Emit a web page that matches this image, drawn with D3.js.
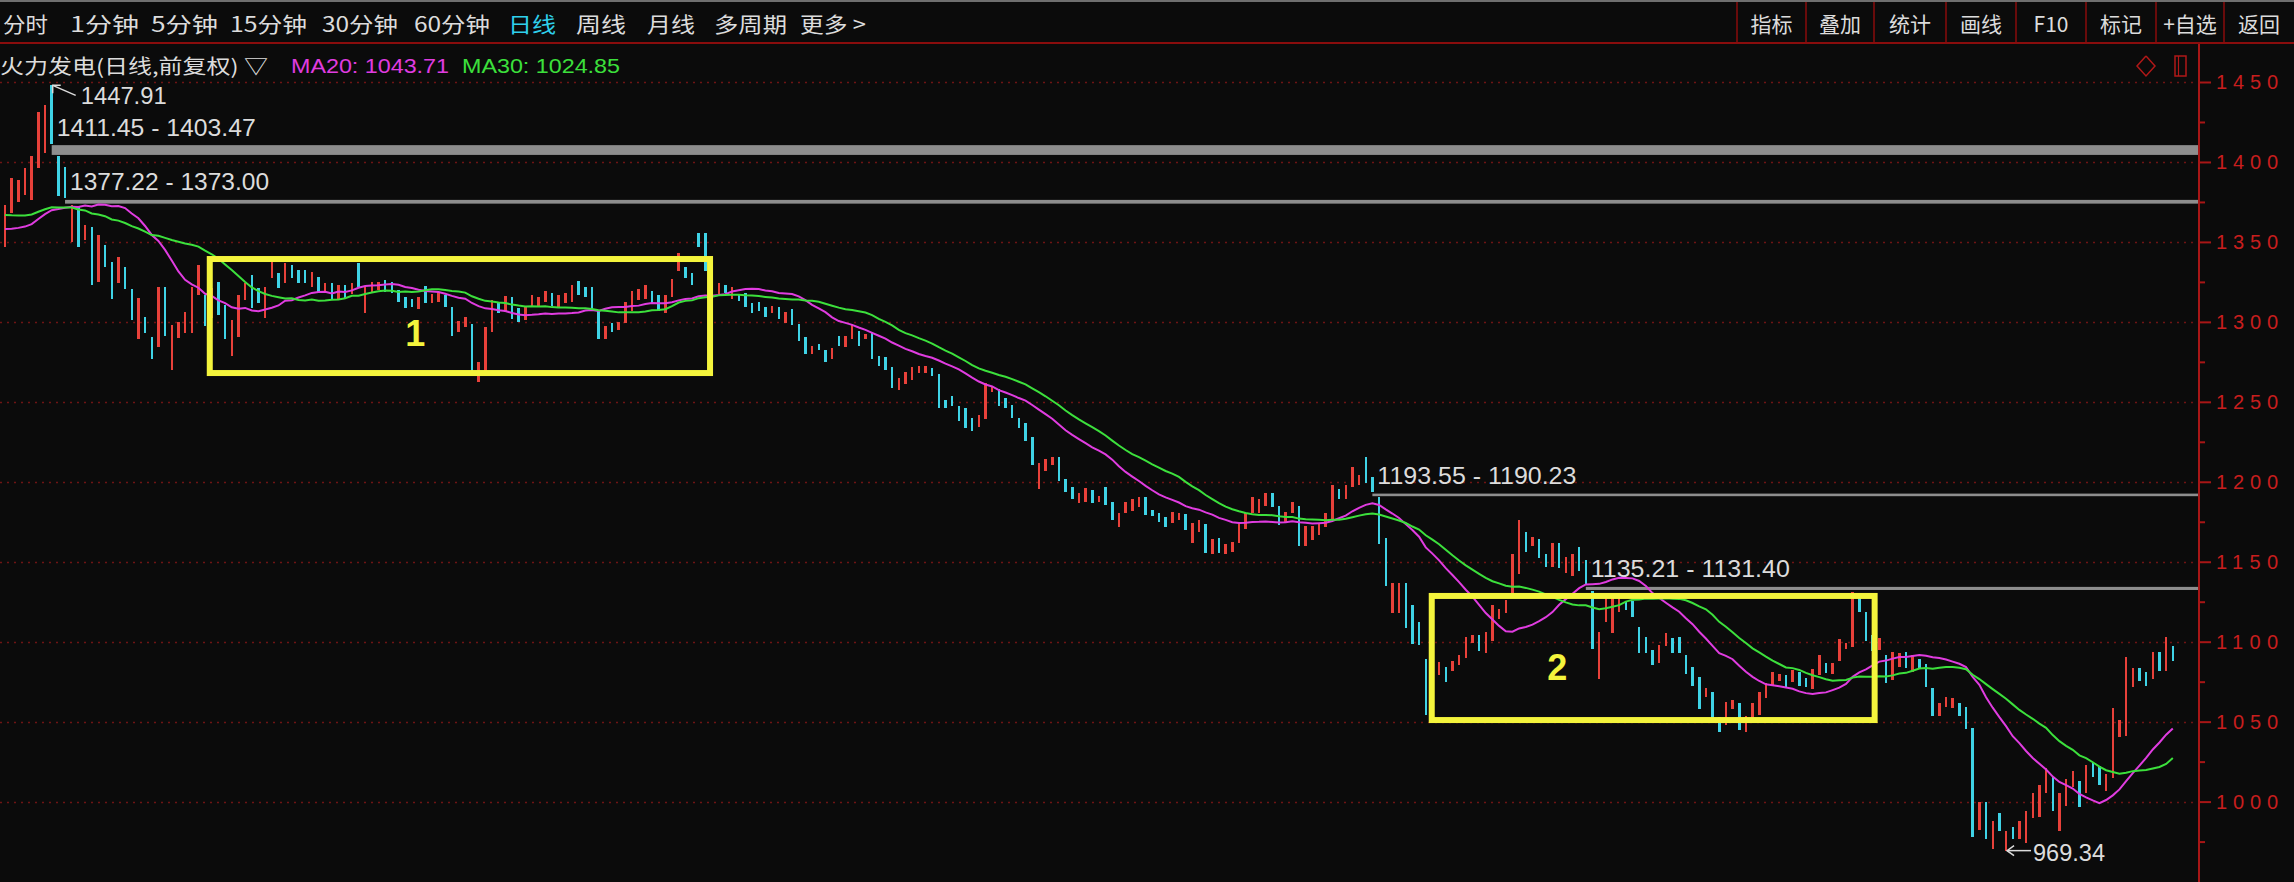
<!DOCTYPE html>
<html><head><meta charset="utf-8">
<script src="https://cdn.jsdelivr.net/npm/d3@7/dist/d3.min.js"></script>
<style>
html,body{margin:0;padding:0;background:#0b0b0b;overflow:hidden}
svg{display:block}
</style></head><body>
<svg id="chart" width="2294" height="882"></svg>
<script>
// ---------------- DATA ----------------
const openPx = [
1347,1367.9,1375.2,1379.3,1376.2,1396,1405.4,1447.91,1403.47,1396.6,
1350.1,1372,1351.2,1359.5,1325.1,1348.1,1337.6,1324.1,1334.1,1320.3,
1289.1,1302.8,1290.7,1284.5,1321.6,1269.9,1289.7,1292.8,1292.8,1316.8,
1316.8,1302.2,1325.1,1310.5,1278.6,1290.7,1313.7,1329.3,1321,1302.2,
1327.2,1330.3,1324.1,1335.5,1332.4,1332.4,1322,1327.8,1318.2,1324.1,
1314.1,1323,1317.4,1336.6,1305.3,1318.9,1319.9,1326.2,1325.1,1319.9,
1315.7,1314.1,1307.8,1322.4,1311.6,1312.6,1316.8,1309.1,1293.9,1297,
1298.6,1262.6,1268.8,1293.9,1312.6,1306.4,1315.3,1308.5,1301.2,1309.1,
1309.5,1312.6,1318.3,1309.1,1312,1312.6,1325.6,1321.6,1321.6,1307,
1289.1,1299.1,1294.9,1299.1,1307,1313.7,1314.1,1319.5,1316.8,1305.3,
1315.3,1332,1334.5,1330.8,1355.8,1355.8,1328,1317.4,1323,1314.1,
1317.4,1317.8,1311.6,1312.6,1309.1,1305.3,1309.1,1299.1,1307.8,1298.7,
1290.3,1279.9,1286.2,1282.4,1276.6,1291.2,1284.1,1289.1,1294.5,1289.1,
1293.9,1278.6,1277.8,1271.6,1257.4,1261.1,1263.6,1268.2,1267.8,1270.9,
1267.4,1251.1,1253.6,1247.4,1245.9,1239.7,1234.5,1239,1256,1258,
1252.2,1248,1239.7,1236.6,1228.2,1195.3,1207,1210.5,1215.3,1201.5,
1197,1186.5,1187.6,1194.9,1187.6,1196.5,1187.6,1171.5,1180.3,1182,
1184.5,1190.3,1182.4,1180.7,1178.2,1174.4,1176.1,1179.9,1161.5,1168.8,
1173.6,1154.8,1164.6,1154.8,1156.3,1161.9,1170.3,1180.3,1180.3,1184.9,
1192.8,1184.9,1175.1,1180.3,1184.9,1159.9,1163.6,1166.7,1171.9,1176.1,
1195.3,1189,1197,1198,1215.7,1203.2,1190.23,1164.6,1118.2,1118.2,
1136.9,1123,1112.5,1089,1056,1079.2,1084,1081.9,1085.4,1089.6,
1099,1104.2,1093.1,1100.5,1114,1117.8,1130.3,1142.4,1168.8,1159.9,
1164,1154.9,1146.5,1162,1142.8,1141.1,1159.5,1151.1,1131.4,1076.5,
1112.6,1105.7,1118.8,1125.1,1125.7,1109.4,1103.2,1094.8,1086.5,1097.3,
1102.1,1103.2,1091.7,1084.4,1077.7,1065.6,1068.8,1053.1,1048,1057.7,
1061.5,1043.8,1052.1,1054.2,1064.6,1072.9,1075.6,1079.2,1075,1081.3,
1077.1,1070.2,1079.2,1086.5,1079.8,1088.2,1095.3,1096.9,1127.8,1118.8,
1104,1094.8,1091.7,1076.1,1084.4,1093.8,1081.3,1089,1086.1,1070.9,
1053.6,1059,1058.3,1061.5,1059,1045.8,982.5,1000,970.5,993.1,
969.34,983.9,976.4,973.9,989.6,990.6,1005.6,1015.6,981.8,997.3,
1009.4,1013.1,1005.6,1024,1022.3,1006.9,1014.6,1040.2,1041.1,1071.5,
1083.4,1081.3,1076.5,1093.8,1081.9,1097.3
];
const closePx = [
1373.1,1389.7,1388.7,1396,1403.7,1431.4,1435.6,1411.45,1378.7,1377.22,
1373.0,1347,1360.6,1323,1354.3,1334.5,1314.1,1340.8,1320.3,1301.2,
1314.7,1292.8,1276.5,1321.6,1291.1,1298,1300.1,1306.4,1321.6,1335.5,
1297.4,1321,1304.3,1289.1,1301.2,1316.8,1324.1,1308.4,1311.6,1322,
1337.6,1321,1336.6,1327.2,1324.5,1324.5,1331.4,1318.2,1324.1,1313.7,
1323,1314.7,1324.1,1322,1322,1325.1,1325.1,1318.9,1318.2,1312.6,
1308.4,1309.1,1315.7,1311.6,1317.4,1318.9,1309.1,1291.1,1300.7,1302.8,
1268.8,1275.1,1296.5,1313.7,1305.3,1316.2,1301.6,1300.1,1309.1,1316.8,
1315.3,1319.5,1309.9,1316.8,1318.3,1323,1316.8,1315.8,1307.4,1289.1,
1297.4,1293.9,1300.1,1312.6,1319.3,1320.3,1323,1311.6,1307,1316.8,
1326.6,1343.3,1327.2,1323,1347,1332,1314,1324.1,1317.8,1322,
1313.3,1309.1,1305.3,1307,1302.8,1309.9,1301.6,1306.4,1298,1288.2,
1279.9,1284.9,1282.4,1275.1,1283.4,1284.9,1291.2,1298.7,1284.9,1292.4,
1276.6,1272.4,1269.9,1258.4,1264.7,1268.8,1271.6,1272.4,1272.4,1266.1,
1245.9,1245.9,1247.4,1238.2,1233.4,1231.9,1241.7,1262,1260,1247.2,
1246,1239.7,1233.4,1225.7,1210.5,1211.6,1214,1215.3,1200.7,1193.8,
1189,1192.8,1195.9,1186.5,1191.1,1185.5,1176.1,1180.7,1187.6,1189,
1190.3,1179.2,1178.6,1175.1,1171.9,1181.3,1180.3,1169.9,1174.4,1176.1,
1155.7,1164,1155.7,1161.1,1162.6,1174.4,1180.7,1190.3,1189,1193.2,
1184.5,1173,1181.3,1187.6,1159.9,1172.4,1172.4,1174,1180.3,1198,
1189,1198,1209.5,1204.3,1199.1,1193.55,1161.1,1134.8,1136.9,1136.9,
1108.4,1098.6,1098,1054.2,1082,1087.5,1075,1088.2,1091.7,1102.7,
1104.2,1094.4,1106.3,1123,1120.3,1126.1,1154.9,1176.1,1156.3,1165.7,
1152.2,1147,1162,1145.9,1152.8,1154.9,1144.4,1135.21,1095.3,1106.3,
1127.1,1127.1,1127.1,1119.8,1115.7,1093.2,1093.2,1085.4,1097.9,1105.3,
1093.2,1093.2,1079.8,1072.3,1057.7,1070.9,1052.1,1043.8,1062.5,1063.6,
1044.8,1053.6,1061.5,1068.8,1074,1081.3,1079.8,1070.9,1082.3,1072.3,
1071.5,1082.7,1091.7,1080.2,1086.5,1101.5,1099.4,1131,1118.8,1100.7,
1094,1102.1,1074,1093.8,1093.2,1083.4,1091.7,1083.4,1071.9,1053.6,
1061.5,1065.6,1064.6,1053.6,1045.2,978.1,1000,976.4,988,981.8,
981.8,976.4,988.1,994.4,1005.6,1010.4,1020.8,994.4,1005.2,1013.9,
1019.4,996.9,1022.9,1015.6,1010.4,1017.3,1058.3,1051.1,1090.2,1083.4,
1075.7,1072.3,1093.8,1081.9,1102.8,1088.2
];
// closes of the 29 sessions before the visible window (needed for the moving averages)
const priorCloses = [
1395,1390,1398,1385,1380,1388,1375,1382,1378,1373,
1385,1378,1380,1372,1368,1375,1362,1365,1360,1360,
1350,1342,1335,1330,1338,1332,1340,1345,1370
];
const maPeriods = [20, 30];
const majorTicks = [1000,1050,1100,1150,1200,1250,1300,1350,1400,1450];
const minorTicks = [975,1025,1075,1125,1175,1225,1275,1325,1375,1425];
const gridLevels = [1000,1050,1100,1150,1200,1250,1300,1350,1400,1450];
// price gaps: [start candle, upper, lower]
const gapStart = [7, 9, 205, 237];
const gapHigh  = [1411.45, 1377.22, 1193.55, 1135.21];
const gapLow   = [1403.47, 1373.00, 1190.23, 1131.40];
// extreme markers
const highMark = {idx: 7, value: 1447.91};
const lowMark  = {idx: 300, value: 969.34};
// highlighted consolidation boxes: candle-index span, price span, label
const boxFrom  = [30.7, 213.9];
const boxTo    = [105.7, 280.3];
const boxTop   = [1339.3, 1128.6];
const boxBot   = [1268.0, 1051.0];
const boxLabel = ["1", "2"];
const boxLabelIdx = [61.5, 232.7];
const boxLabelPx  = [1293, 1083.6];
// UI texts
const periodTabs = ["分时","1分钟","5分钟","15分钟","30分钟","60分钟","日线","周线","月线","多周期","更多 >"];
const periodTabX = [3,70,151,230,322,414,508,576,647,714,800];
const periodTabW = [45,69,67,77,76,76,48,50,48,73,66];
const toolBtns = ["指标","叠加","统计","画线","F10","标记","+自选","返回"];
const toolSep  = [1737,1806,1874,1946,2016,2086,2156,2224,2294];
const title = "火力发电(日线,前复权) ▽";
const maLegend = ["MA20: 1043.71", "MA30: 1024.85"];

// ---------------- DRAW ----------------
const C = {
  bg:"#0b0b0b", up:"#e8413a", down:"#3fd3e6", ma20:"#e03ce0", ma30:"#3ce03c",
  axis:"#a81616", axisText:"#c81e1e", grid:"#6e1414", gap:"#8e8e8e",
  txt:"#dcdcdc", box:"#f4f43c", sel:"#2fd0ec"
};
const svg = d3.select("#chart");
svg.append("rect").attr("width",2294).attr("height",882).attr("fill",C.bg);

const n = openPx.length;
const x = d3.scaleLinear().domain([0, n-1]).range([5, 2172.8]);
const y = d3.scaleLinear().domain([1000, 1450]).range([801.6, 82]);
const axisX = 2199;

// grid
svg.append("g").selectAll("line").data(gridLevels).join("line")
  .attr("x1",0).attr("x2",axisX-4)
  .attr("y1",d=>Math.round(y(d))+0.5).attr("y2",d=>Math.round(y(d))+0.5)
  .attr("stroke",C.grid).attr("stroke-width",1.6).attr("stroke-dasharray","2,5");

// gaps
const gapG = svg.append("g");
gapStart.forEach((s,k)=>{
  const y0 = y(gapHigh[k]) + 1.5, y1 = y(gapLow[k]) - 1.5;
  gapG.append("rect").attr("x", x(s)).attr("width", axisX - x(s))
    .attr("y", y0).attr("height", Math.max(2.6, y1 - y0)).attr("fill", C.gap);
  gapG.append("text").attr("x", x(s)+5).attr("y", y(gapHigh[k]) - 16)
    .attr("dominant-baseline","central")
    .attr("font-family","'Liberation Sans', Arial, sans-serif").attr("font-size",23)
    .attr("fill",C.txt).attr("textLength",199).attr("lengthAdjust","spacingAndGlyphs")
    .text(gapHigh[k].toFixed(2) + " - " + gapLow[k].toFixed(2));
});

// candles
const cg = svg.append("g").attr("shape-rendering","crispEdges");
cg.selectAll("rect").data(d3.range(n)).join("rect")
  .attr("x", i => x(i) - 1.2).attr("width", 2.5)
  .attr("y", i => y(Math.max(openPx[i], closePx[i])))
  .attr("height", i => Math.max(1.5, Math.abs(y(openPx[i]) - y(closePx[i]))))
  .attr("fill", i => closePx[i] >= openPx[i] ? C.up : C.down);

// moving averages
const allClose = priorCloses.concat(closePx);
const off = priorCloses.length;
function ma(p){
  return d3.range(n).map(i => d3.mean(allClose.slice(off + i - p + 1, off + i + 1)));
}
const maColors = [C.ma20, C.ma30];
maPeriods.forEach((p,k)=>{
  const vals = ma(p);
  svg.append("path").datum(vals)
    .attr("d", d3.line().x((d,i)=>x(i)).y(d=>y(d)))
    .attr("fill","none").attr("stroke",maColors[k]).attr("stroke-width",2);
});

// boxes
const bg = svg.append("g");
boxFrom.forEach((b,k)=>{
  bg.append("rect").attr("x", x(b)).attr("y", y(boxTop[k]))
    .attr("width", x(boxTo[k]) - x(b)).attr("height", y(boxBot[k]) - y(boxTop[k]))
    .attr("fill","none").attr("stroke",C.box).attr("stroke-width",6);
  bg.append("text").attr("x", x(boxLabelIdx[k])).attr("y", y(boxLabelPx[k]))
    .attr("text-anchor","middle").attr("dominant-baseline","central")
    .attr("font-family","'Liberation Sans', Arial, sans-serif").attr("font-weight","bold")
    .attr("font-size",36).attr("fill",C.box).text(boxLabel[k]);
});

// high marker
{
  const hx = x(highMark.idx), hy = y(highMark.value);
  const g = svg.append("g").attr("stroke",C.txt).attr("stroke-width",1.5).attr("fill","none");
  g.append("path").attr("d", d3.line()([[hx+1,hy],[hx+24,hy+10]]));
  g.append("path").attr("d", d3.line()([[hx+9,hy],[hx+1,hy],[hx+1,hy+8]]));
  svg.append("text").attr("x", hx+29).attr("y", hy+11).attr("dominant-baseline","central")
    .attr("font-family","'Liberation Sans', Arial, sans-serif").attr("font-size",23)
    .attr("fill",C.txt).attr("textLength",86).attr("lengthAdjust","spacingAndGlyphs")
    .text(highMark.value.toFixed(2));
}
// low marker
{
  const lx = x(lowMark.idx), ly = y(lowMark.value);
  const g = svg.append("g").attr("stroke",C.txt).attr("stroke-width",1.5).attr("fill","none");
  g.append("path").attr("d", d3.line()([[lx+1,ly],[lx+25,ly]]));
  g.append("path").attr("d", d3.line()([[lx+8,ly-5],[lx+1,ly],[lx+8,ly+5]]));
  svg.append("text").attr("x", lx+27).attr("y", ly+2).attr("dominant-baseline","central")
    .attr("font-family","'Liberation Sans', Arial, sans-serif").attr("font-size",23)
    .attr("fill",C.txt).attr("textLength",72).attr("lengthAdjust","spacingAndGlyphs")
    .text(lowMark.value.toFixed(2));
}

// right price axis
svg.append("rect").attr("x",axisX+1).attr("y",44).attr("width",2294-axisX).attr("height",838).attr("fill",C.bg);
const ax = svg.append("g").attr("transform",`translate(${axisX},0)`)
  .call(d3.axisRight(y).tickValues(majorTicks).tickSize(12).tickPadding(5).tickFormat(d3.format("d")));
ax.select(".domain").remove();
ax.selectAll(".tick line").attr("stroke",C.axis).attr("stroke-width",2);
ax.selectAll(".tick text").attr("fill",C.axisText).attr("font-size",20)
  .attr("font-family","'Liberation Sans', Arial, sans-serif")
  .attr("textLength",62).attr("lengthAdjust","spacing");
const axm = svg.append("g").attr("transform",`translate(${axisX},0)`)
  .call(d3.axisRight(y).tickValues(minorTicks).tickSize(6).tickFormat(""));
axm.select(".domain").remove();
axm.selectAll(".tick line").attr("stroke",C.axis).attr("stroke-width",2);
svg.append("line").attr("x1",axisX).attr("x2",axisX).attr("y1",43).attr("y2",882)
  .attr("stroke",C.axis).attr("stroke-width",2);

// top toolbar
svg.append("rect").attr("x",0).attr("y",0).attr("width",2294).attr("height",43).attr("fill",C.bg);
svg.append("rect").attr("x",0).attr("y",0).attr("width",2294).attr("height",2).attr("fill","#6f6f6f");
svg.append("line").attr("x1",0).attr("x2",2294).attr("y1",43).attr("y2",43)
  .attr("stroke","#8a0d0d").attr("stroke-width",2);
svg.append("g").selectAll("text").data(periodTabs).join("text")
  .attr("x",(d,i)=>periodTabX[i]).attr("y",23).attr("dominant-baseline","central")
  .attr("font-family","'Noto Sans CJK SC', sans-serif").attr("font-size",21)
  .attr("fill",(d)=> d==="日线" ? C.sel : C.txt)
  .attr("textLength",(d,i)=>periodTabW[i]).attr("lengthAdjust","spacingAndGlyphs")
  .text(d=>d);
svg.append("g").selectAll("line").data(toolSep.slice(0,-1)).join("line")
  .attr("x1",d=>d).attr("x2",d=>d).attr("y1",2).attr("y2",43)
  .attr("stroke","#8a0d0d").attr("stroke-width",1.5);
svg.append("g").selectAll("text").data(toolBtns).join("text")
  .attr("x",(d,i)=>(toolSep[i]+toolSep[i+1])/2).attr("y",23)
  .attr("text-anchor","middle").attr("dominant-baseline","central")
  .attr("font-family","'Noto Sans CJK SC', sans-serif").attr("font-size",21)
  .attr("fill",C.txt).text(d=>d);

// title row
svg.append("text").attr("x",0).attr("y",65).attr("dominant-baseline","central")
  .attr("font-family","'Noto Sans CJK SC', sans-serif").attr("font-size",20)
  .attr("fill",C.txt).attr("textLength",268).attr("lengthAdjust","spacingAndGlyphs").text(title);
const legX = [291, 462];
maLegend.forEach((t,k)=>{
  svg.append("text").attr("x",legX[k]).attr("y",65).attr("dominant-baseline","central")
    .attr("font-family","'Liberation Sans', Arial, sans-serif").attr("font-size",21)
    .attr("fill",maColors[k]).attr("textLength",158).attr("lengthAdjust","spacingAndGlyphs").text(t);
});
// small icons at top right of chart
svg.append("path").attr("d", d3.line()([[2146,56],[2155,66],[2146,76],[2137,66],[2146,56]]))
  .attr("fill","none").attr("stroke","#b01818").attr("stroke-width",1.5);
svg.append("rect").attr("x",2175).attr("y",56).attr("width",11).attr("height",20)
  .attr("fill","none").attr("stroke","#b01818").attr("stroke-width",1.5);
svg.append("line").attr("x1",2178.5).attr("x2",2178.5).attr("y1",56).attr("y2",76)
  .attr("stroke","#b01818").attr("stroke-width",1.2);
</script>
</body></html>
